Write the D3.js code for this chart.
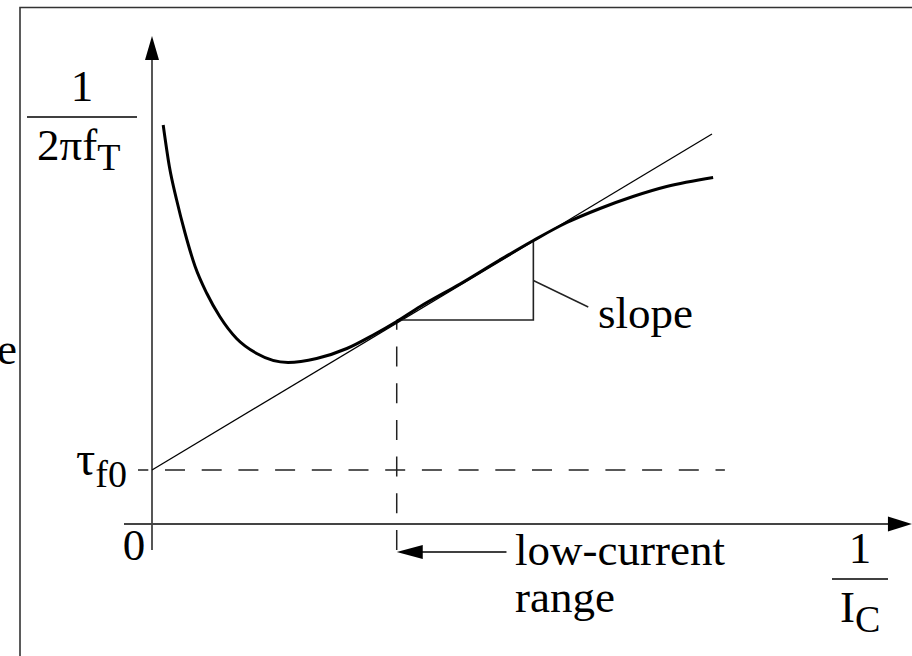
<!DOCTYPE html>
<html>
<head>
<meta charset="utf-8">
<script src="https://cdn.jsdelivr.net/npm/d3@7/dist/d3.min.js"></script>
<style>
  html, body { margin: 0; padding: 0; background: #fff; }
  svg { display: block; }
  text { font-family: "Liberation Serif", "Times New Roman", serif; fill: #000; }
</style>
</head>
<body>
<script>
// 1/(2*pi*fT) versus 1/IC, in arbitrary units
const curveX = [0.20, 0.31, 0.44, 0.59, 0.77, 0.98, 1.21, 1.51, 1.87, 2.43, 2.94, 3.48, 3.95, 4.37, 4.79, 5.50, 6.21, 6.81, 7.41, 8.00, 8.59, 9.19, 10.02];
const curveY = [7.98, 7.15, 6.48, 5.82, 5.15, 4.61, 4.15, 3.71, 3.41, 3.23, 3.31, 3.51, 3.78, 4.05, 4.35, 4.80, 5.28, 5.67, 6.03, 6.31, 6.55, 6.75, 6.93];

// Straight-line asymptote: intercept tau_f0, drawn from 0 to 10
const tangentX = [0, 10];
const tangentY = [1.08, 7.80];
const tauF0 = 1.08;

// Slope triangle and low-current boundary
const slopeX = [4.37, 6.81];
const slopeY = [4.08, 5.66];
const lowCurrentX = 4.37;

// Axis extents (data units)
const xAxisExtent = [-0.5, 13.57];
const yAxisExtent = [-0.52, 9.76];

const W = 912, H = 656;
const svg = d3.select("body").append("svg").attr("width", W).attr("height", H);

const x = d3.scaleLinear().domain([0, 10]).range([152, 712]);
const y = d3.scaleLinear().domain([0, 8]).range([524, 124]);

// Outer frame (left and top edges visible)
svg.append("path")
  .attr("d", `M20,${H + 2} L20,7.5 L${W + 2},7.5`)
  .attr("fill", "none").attr("stroke", "#333").attr("stroke-width", 1.6);

// Fragment of neighbouring text at the left margin
svg.append("text").attr("x", 17).attr("y", 364).attr("text-anchor", "end")
  .attr("font-size", 45).text("e");

const axisColor = "#444";

// Axes
svg.append("line")
  .attr("x1", x(0)).attr("x2", x(0))
  .attr("y1", y(yAxisExtent[0])).attr("y2", y(yAxisExtent[1]) + 20)
  .attr("stroke", axisColor).attr("stroke-width", 1.8);
svg.append("line")
  .attr("x1", x(xAxisExtent[0])).attr("x2", x(xAxisExtent[1]) - 20)
  .attr("y1", y(0)).attr("y2", y(0))
  .attr("stroke", axisColor).attr("stroke-width", 1.8);

// Arrowheads
const yTip = [x(0), y(yAxisExtent[1])];
svg.append("path")
  .attr("d", `M${yTip[0]},${yTip[1]} L${yTip[0] - 7},${yTip[1] + 24} L${yTip[0] + 7},${yTip[1] + 24} Z`)
  .attr("fill", "#000");
const xTip = [x(xAxisExtent[1]), y(0)];
svg.append("path")
  .attr("d", `M${xTip[0]},${xTip[1]} L${xTip[0] - 24},${xTip[1] - 7.5} L${xTip[0] - 24},${xTip[1] + 7.5} Z`)
  .attr("fill", "#000");

// Dashed reference lines
svg.append("line")
  .attr("x1", x(-0.25)).attr("x2", x(10.23))
  .attr("y1", y(tauF0)).attr("y2", y(tauF0))
  .attr("stroke", "#222").attr("stroke-width", 1.5)
  .attr("stroke-dasharray", "20 16.7").attr("stroke-dashoffset", 9.7);
svg.append("line")
  .attr("x1", x(lowCurrentX)).attr("x2", x(lowCurrentX))
  .attr("y1", y(4.05)).attr("y2", y(-0.52))
  .attr("stroke", "#222").attr("stroke-width", 1.5)
  .attr("stroke-dasharray", "20 16.7").attr("stroke-dashoffset", 11.7);

// Tangent line
svg.append("line")
  .attr("x1", x(tangentX[0])).attr("y1", y(tangentY[0]))
  .attr("x2", x(tangentX[1])).attr("y2", y(tangentY[1]))
  .attr("stroke", "#000").attr("stroke-width", 1.3);

// Slope triangle
svg.append("path")
  .attr("d", `M${x(slopeX[0])},${y(slopeY[0])} L${x(slopeX[1])},${y(slopeY[0])} L${x(slopeX[1])},${y(slopeY[1])}`)
  .attr("fill", "none").attr("stroke", "#222").attr("stroke-width", 1.6);
// Leader to "slope" label
svg.append("line")
  .attr("x1", x(slopeX[1])).attr("y1", y((slopeY[0] + slopeY[1]) / 2))
  .attr("x2", x(7.79)).attr("y2", y(4.34))
  .attr("stroke", "#222").attr("stroke-width", 1.4);

// Transit-time curve
const pts = curveX.map((d, i) => [d, curveY[i]]);
svg.append("path")
  .datum(pts)
  .attr("d", d3.line().x(d => x(d[0])).y(d => y(d[1])).curve(d3.curveMonotoneX))
  .attr("fill", "none").attr("stroke", "#000").attr("stroke-width", 3);

// Low-current range arrow
const arrY = y(-0.56);
svg.append("line")
  .attr("x1", x(lowCurrentX) + 20).attr("x2", x(6.33))
  .attr("y1", arrY).attr("y2", arrY)
  .attr("stroke", "#000").attr("stroke-width", 1.5);
svg.append("path")
  .attr("d", `M${x(lowCurrentX)},${arrY} L${x(lowCurrentX) + 26},${arrY - 7} L${x(lowCurrentX) + 26},${arrY + 7} Z`)
  .attr("fill", "#000");

// Labels
const fs = 45;
// y-axis label: 1 / (2 pi fT)
svg.append("text").attr("x", 82).attr("y", 101).attr("text-anchor", "middle").attr("font-size", fs).text("1");
svg.append("line").attr("x1", 27).attr("x2", 137).attr("y1", 117).attr("y2", 117)
  .attr("stroke", "#000").attr("stroke-width", 1.5);
const yl = svg.append("text").attr("x", 37).attr("y", 160).attr("font-size", fs);
yl.append("tspan").text("2πf");
yl.append("tspan").attr("dy", 10).attr("font-size", 38).text("T");

// x-axis label: 1 / IC
svg.append("text").attr("x", 860).attr("y", 563).attr("text-anchor", "middle").attr("font-size", fs).text("1");
svg.append("line").attr("x1", 832).attr("x2", 888).attr("y1", 579).attr("y2", 579)
  .attr("stroke", "#000").attr("stroke-width", 1.5);
const xl = svg.append("text").attr("x", 840).attr("y", 622).attr("font-size", fs);
xl.append("tspan").text("I");
xl.append("tspan").attr("dy", 10).attr("font-size", 38).text("C");

// tau_f0
const tl = svg.append("text").attr("x", 127).attr("y", 475).attr("text-anchor", "end").attr("font-size", 48);
tl.append("tspan").text("τ");
tl.append("tspan").attr("dy", 12).attr("font-size", 38).text("f0");

// Origin
svg.append("text").attr("x", 134).attr("y", 560).attr("text-anchor", "middle").attr("font-size", fs).text("0");

// Annotations
svg.append("text").attr("x", 598).attr("y", 328).attr("font-size", fs).text("slope");
svg.append("text").attr("x", 515).attr("y", 565).attr("font-size", fs).text("low-current");
svg.append("text").attr("x", 515).attr("y", 612).attr("font-size", fs).text("range");
</script>
</body>
</html>
